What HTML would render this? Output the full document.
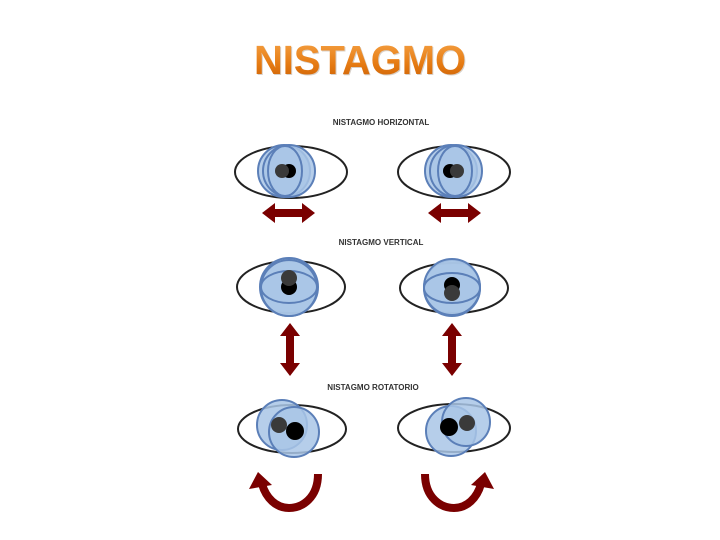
<!DOCTYPE html>
<html><head><meta charset="utf-8"><style>
html,body{margin:0;padding:0;background:#fff;}
svg{display:block;}
</style></head><body>
<svg width="720" height="540" viewBox="0 0 720 540" xmlns="http://www.w3.org/2000/svg">
<defs>
<linearGradient id="tg" x1="0" y1="0" x2="0" y2="1">
<stop offset="0" stop-color="#f7a64a"/><stop offset="0.6" stop-color="#e57a12"/><stop offset="1" stop-color="#c95f05"/>
</linearGradient>
</defs>
<text x="361" y="75" font-family="Liberation Sans, sans-serif" font-weight="bold" font-size="41" fill="#d8d0c8" text-anchor="middle" textLength="212" lengthAdjust="spacingAndGlyphs">NISTAGMO</text>
<text x="360" y="74" font-family="Liberation Sans, sans-serif" font-weight="bold" font-size="41" fill="url(#tg)" text-anchor="middle" textLength="212" lengthAdjust="spacingAndGlyphs">NISTAGMO</text>

<g font-family="Liberation Sans, sans-serif" font-size="8" font-weight="bold" fill="#333" text-anchor="middle">
<text x="381" y="125">NISTAGMO HORIZONTAL</text>
<text x="381" y="245">NISTAGMO VERTICAL</text>
<text x="373" y="390">NISTAGMO ROTATORIO</text>
</g>

<g stroke="#222" stroke-width="2" fill="none">
<ellipse cx="291" cy="172" rx="56" ry="26"/>
<ellipse cx="454" cy="172" rx="56" ry="26"/>
<ellipse cx="291" cy="287" rx="54" ry="26"/>
<ellipse cx="454" cy="288" rx="54" ry="25"/>
<ellipse cx="292" cy="429" rx="54" ry="24"/>
<ellipse cx="454" cy="428" rx="56" ry="24"/>
</g>

<g fill="#a9c6e6" fill-opacity="0.85" stroke="#5b7fb8" stroke-width="2">
<circle cx="284" cy="171" r="26"/><circle cx="289" cy="171" r="26"/>
<ellipse cx="285" cy="171" rx="17" ry="25"/>
<circle cx="451" cy="171" r="26"/><circle cx="456" cy="171" r="26"/>
<ellipse cx="455" cy="171" rx="17" ry="25"/>
<circle cx="289" cy="287" r="29"/><circle cx="289" cy="288" r="28"/>
<ellipse cx="289" cy="287" rx="28" ry="16"/>
<circle cx="452" cy="288" r="28"/><circle cx="452" cy="287" r="28"/>
<ellipse cx="452" cy="288" rx="28" ry="15"/>
<circle cx="282" cy="425" r="25"/><circle cx="294" cy="432" r="25"/>
<circle cx="451" cy="431" r="25"/><circle cx="466" cy="422" r="24"/>
</g>

<g stroke="none">
<circle cx="289" cy="171" r="7" fill="#000"/><circle cx="282" cy="171" r="7" fill="#3a3a3a"/>
<circle cx="450" cy="171" r="7" fill="#000"/><circle cx="457" cy="171" r="7" fill="#3a3a3a"/>
<circle cx="289" cy="287" r="8" fill="#000"/><circle cx="289" cy="278" r="8" fill="#3a3a3a"/>
<circle cx="452" cy="285" r="8" fill="#000"/><circle cx="452" cy="293" r="8" fill="#3a3a3a"/>
<circle cx="279" cy="425" r="8" fill="#3a3a3a"/><circle cx="295" cy="431" r="9" fill="#000"/>
<circle cx="449" cy="427" r="9" fill="#000"/><circle cx="467" cy="423" r="8" fill="#3a3a3a"/>
</g>

<g fill="#7a0000">
<polygon points="262,213 275,203 275,209 302,209 302,203 315,213 302,223 302,217 275,217 275,223"/>
<polygon points="428,213 441,203 441,209 468,209 468,203 481,213 468,223 468,217 441,217 441,223"/>
<polygon points="290,323 300,336 294,336 294,363 300,363 290,376 280,363 286,363 286,336 280,336"/>
<polygon points="452,323 462,336 456,336 456,363 462,363 452,376 442,363 448,363 448,336 442,336"/>
<polygon points="258,472 249,489 272,485"/>
<polygon points="485,472 494,489 471,485"/>
</g>
<g fill="none" stroke="#7a0000" stroke-width="8">
<path d="M318,474 C318,498 302,508 289,508 C276,508 266,498 262,484"/>
<path d="M425,474 C425,498 441,508 454,508 C467,508 477,498 481,484"/>
</g>
</svg>
</body></html>
